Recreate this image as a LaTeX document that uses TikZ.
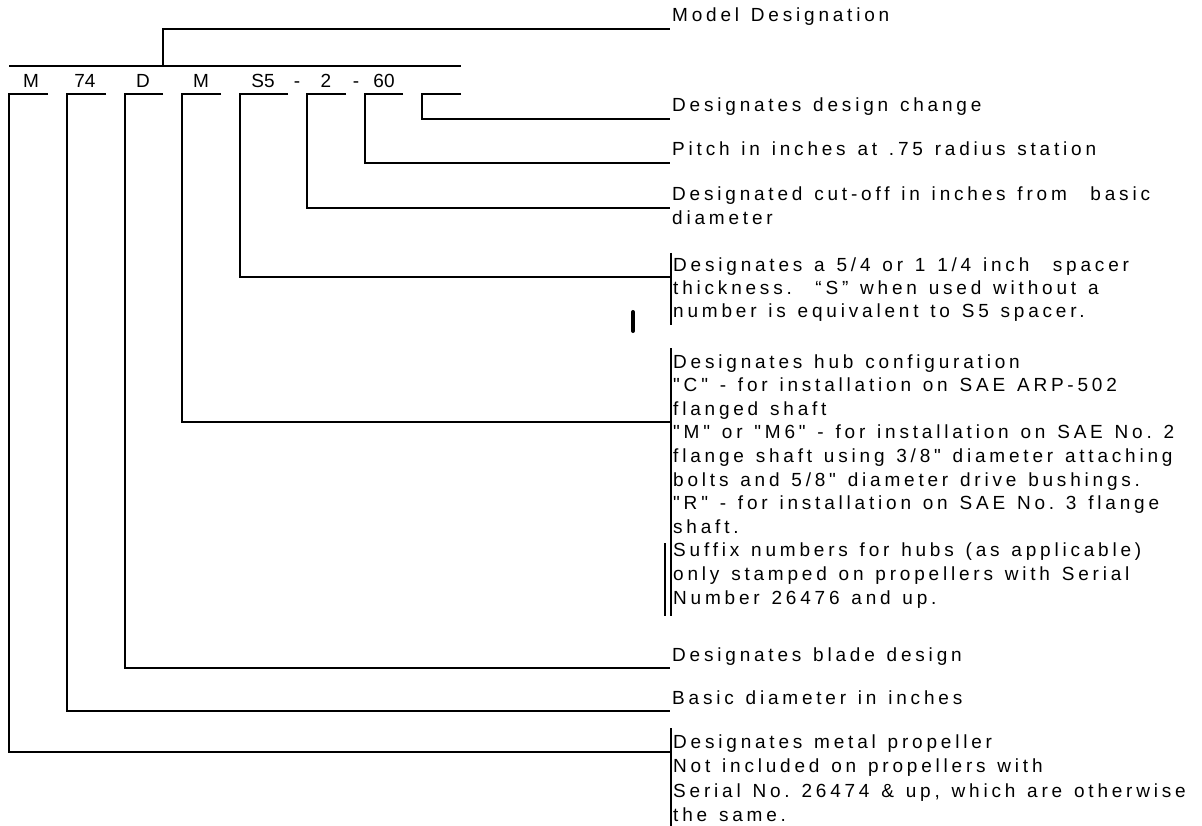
\documentclass[tikz,border=0pt]{standalone}
\usepackage{fontspec}
\setmainfont{Liberation Sans}
\newfontfamily\descfamily[LetterSpace=20,WordSpace=1.3]{Liberation Sans}
\newcommand{\descfnt}{\descfamily\fontsize{19}{24}\selectfont}
\newcommand{\codefnt}{\fontsize{19}{22}\selectfont}
\begin{document}
\begin{tikzpicture}[x=1pt,y=-1pt,
  conn/.style={line width=1.6pt, line join=miter},
  bar/.style={line width=1.4pt},
  desc/.style={anchor=base west, inner sep=0pt, font=\descfnt},
  code/.style={anchor=base, inner sep=0pt, font=\codefnt}]
\fill[white] (0,0) rectangle (1202,826);
\useasboundingbox (0,0) rectangle (1202,826);

% model code labels
\node[code] (cM)  at (31,88)  {M};
\node[code] (c74) at (85,88)  {74};
\node[code] (cD)  at (143,88) {D};
\node[code] (cH)  at (201,88) {M};
\node[code] (cS)  at (263,88) {S5};
\node[code] (cda) at (297,88) {-};
\node[code] (c2)  at (326,88) {2};
\node[code] (cdb) at (356,88) {-};
\node[code] (c60) at (384,88) {60};

% description texts
\node[desc] (tModel) at (672,22) {Model Designation};
\node[desc] (tChange) at (672,112) {Designates design change};
\node[desc] (tPitch) at (672,156) {Pitch in inches at .75 radius station};
\node[desc] (tCutA) at (672,201) {Designated cut-off in inches from\ \ basic};
\node[desc] (tCutB) at (672,225) {diameter};

\node[desc] (tSpA) at (673,272) {Designates a 5/4 or 1 1/4 inch\ \ spacer};
\node[desc] (tSpB) at (673,295) {thickness.\ \ “S” when used without a};
\node[desc] (tSpC) at (673,318) {number is equivalent to S5 spacer.};

\node[desc] (tHa) at (673,368.0) {Designates hub configuration};
\node[desc] (tHb) at (673,391.6) {"C" - for installation on SAE ARP-502};
\node[desc] (tHc) at (673,415.2) {flanged shaft};
\node[desc] (tHd) at (673,438.8) {"M" or "M6" - for installation on SAE No.\ 2};
\node[desc] (tHe) at (673,462.4) {flange shaft using 3/8" diameter attaching};
\node[desc] (tHf) at (673,486.0) {bolts and 5/8" diameter drive bushings.};
\node[desc] (tHg) at (673,509.6) {"R" - for installation on SAE No.\ 3 flange};
\node[desc] (tHh) at (673,533.2) {shaft.};
\node[desc] (tHi) at (673,556.8) {Suffix numbers for hubs (as applicable)};
\node[desc] (tHj) at (673,580.4) {only stamped on propellers with Serial};
\node[desc] (tHk) at (673,604.0) {Number 26476 and up.};

\node[desc] (tBlade) at (672,661) {Designates blade design};
\node[desc] (tBasic) at (672,704) {Basic diameter in inches};

\node[desc] (tMa) at (673,748) {Designates metal propeller};
\node[desc] (tMb) at (673,772) {Not included on propellers with};
\node[desc] (tMc) at (673,797) {Serial No.\ 26474 \& up, which are otherwise};
\node[desc] (tMd) at (673,821) {the same.};

% bracket coordinates
\coordinate (topL) at (9,66);
\coordinate (topR) at (461,66);
\coordinate (topJ) at (163,66);
\coordinate (eModel) at (670,29);

\coordinate (bLa) at (9,94);   \coordinate (bRa) at (48,94);
\coordinate (bLb) at (67,94);  \coordinate (bRb) at (106,94);
\coordinate (bLc) at (125,94); \coordinate (bRc) at (163,94);
\coordinate (bLd) at (182,94); \coordinate (bRd) at (221,94);
\coordinate (bLe) at (240,94); \coordinate (bRe) at (288,94);
\coordinate (bLf) at (307,94); \coordinate (bRf) at (346,94);
\coordinate (bLg) at (365,94); \coordinate (bRg) at (403,94);
\coordinate (bLh) at (422,94); \coordinate (bRh) at (461,94);

\coordinate (eMetal)  at (671,752);
\coordinate (eBasic)  at (670,711);
\coordinate (eBlade)  at (670,668);
\coordinate (eHub)    at (671,422);
\coordinate (eSpacer) at (671,277);
\coordinate (eCut)    at (670,208);
\coordinate (ePitch)  at (670,163);
\coordinate (eChange) at (670,119);

% connectors
\draw[conn] (topL) -- (topR);
\draw[conn] (topJ) |- (eModel);
\draw[conn] (bRa) -- (bLa) |- (eMetal);
\draw[conn] (bRb) -- (bLb) |- (eBasic);
\draw[conn] (bRc) -- (bLc) |- (eBlade);
\draw[conn] (bRd) -- (bLd) |- (eHub);
\draw[conn] (bRe) -- (bLe) |- (eSpacer);
\draw[conn] (bRf) -- (bLf) |- (eCut);
\draw[conn] (bRg) -- (bLg) |- (ePitch);
\draw[conn] (bRh) -- (bLh) |- (eChange);

% side bars beside text blocks
\draw[bar] (671,253) -- (671,325);
\draw[bar] (671,348) -- (671,616);
\draw[bar] (665,543) -- (665,616);
\draw[bar] (671,728) -- (671,826);
\draw[line width=4pt, line cap=round] (633,312) -- (633,331);
\end{tikzpicture}
\end{document}
